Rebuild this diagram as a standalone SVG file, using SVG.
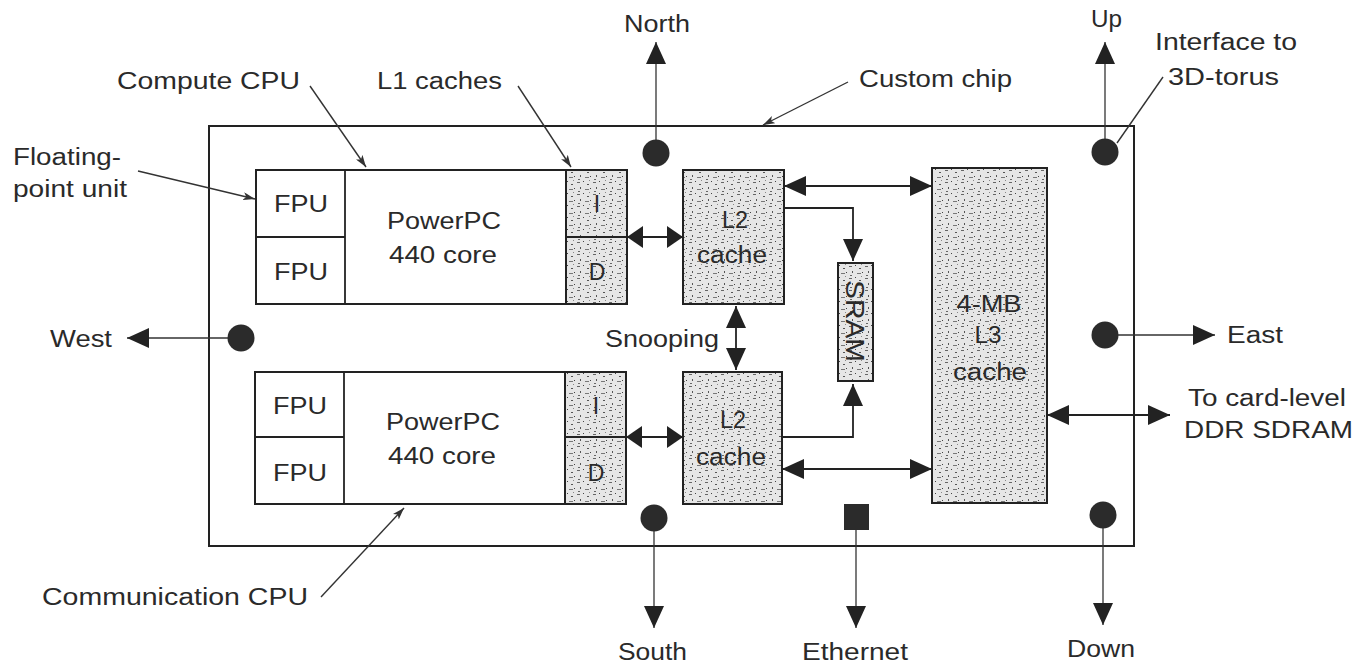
<svg xmlns="http://www.w3.org/2000/svg" width="1366" height="668" viewBox="0 0 1366 668">
<defs>
<style>
.t{font-family:"Liberation Sans",Arial,Helvetica,sans-serif;font-size:23px;fill:#2a2a2a}
.box{fill:#fff;stroke:#222;stroke-width:2}
.sh{fill:url(#stip);stroke:#222;stroke-width:2}
.ln{fill:none;stroke:#222;stroke-width:1.8}
.thin{fill:none;stroke:#333;stroke-width:1.3}
.ld{fill:none;stroke:#333;stroke-width:1.4}
.dot{fill:#2b2b2b}
</style>
<pattern id="stip" width="16" height="12" patternUnits="userSpaceOnUse">
<rect width="16" height="12" fill="#e6e6e6"/>
<rect x="1" y="2" width="3" height="1" fill="#666"/>
<rect x="7" y="1" width="1" height="1" fill="#444"/>
<rect x="11" y="4" width="2" height="1" fill="#555"/>
<rect x="4" y="7" width="1" height="2" fill="#555"/>
<rect x="9" y="9" width="4" height="1" fill="#777"/>
<rect x="14" y="8" width="1" height="1" fill="#444"/>
<rect x="2" y="11" width="2" height="1" fill="#666"/>
<rect x="13" y="0" width="1" height="1" fill="#888"/>
</pattern>
<marker id="ah" markerUnits="userSpaceOnUse" markerWidth="22" markerHeight="20" viewBox="0 0 22 20" refX="22" refY="10" orient="auto-start-reverse">
<path d="M0,0 L22,10 L0,20 Z" fill="#222"/>
</marker>
<marker id="ahs" markerUnits="userSpaceOnUse" markerWidth="16" markerHeight="22" viewBox="0 0 16 22" refX="16" refY="11" orient="auto-start-reverse">
<path d="M0,0 L16,11 L0,22 Z" fill="#222"/>
</marker>
<marker id="lh" markerUnits="userSpaceOnUse" markerWidth="12" markerHeight="8" viewBox="0 0 12 8" refX="12" refY="4" orient="auto">
<path d="M0,0 L12,4 L0,8 L3,4 Z" fill="#333"/>
</marker>
</defs>
<rect width="1366" height="668" fill="#fff"/>

<g id="chip"><rect x="209" y="126" width="925" height="420" fill="none" stroke="#222" stroke-width="2"/></g>

<g id="cpu-compute">
<rect class="box" x="256" y="170" width="371" height="134"/>
<line class="ln" x1="345" y1="170" x2="345" y2="304"/>
<line class="ln" x1="256" y1="237" x2="345" y2="237"/>
<text class="t" x="274" y="212" textLength="54" lengthAdjust="spacingAndGlyphs">FPU</text>
<text class="t" x="274" y="280" textLength="54" lengthAdjust="spacingAndGlyphs">FPU</text>
<text class="t" x="387" y="229" textLength="114" lengthAdjust="spacingAndGlyphs">PowerPC</text>
<text class="t" x="389" y="263" textLength="108" lengthAdjust="spacingAndGlyphs">440 core</text>
</g>
<g id="l1-compute">
<rect class="sh" x="566" y="170" width="61" height="67"/>
<rect class="sh" x="566" y="237" width="61" height="67"/>
<text class="t" x="597" y="212" text-anchor="middle">I</text>
<text class="t" x="597" y="280" text-anchor="middle">D</text>
</g>

<g id="cpu-communication">
<rect class="box" x="255" y="372" width="371" height="132"/>
<line class="ln" x1="344" y1="372" x2="344" y2="504"/>
<line class="ln" x1="255" y1="437" x2="344" y2="437"/>
<text class="t" x="273" y="414" textLength="54" lengthAdjust="spacingAndGlyphs">FPU</text>
<text class="t" x="273" y="481" textLength="54" lengthAdjust="spacingAndGlyphs">FPU</text>
<text class="t" x="386" y="430" textLength="114" lengthAdjust="spacingAndGlyphs">PowerPC</text>
<text class="t" x="388" y="464" textLength="108" lengthAdjust="spacingAndGlyphs">440 core</text>
</g>
<g id="l1-communication">
<rect class="sh" x="565" y="372" width="61" height="65"/>
<rect class="sh" x="565" y="437" width="61" height="67"/>
<text class="t" x="596" y="414" text-anchor="middle">I</text>
<text class="t" x="596" y="481" text-anchor="middle">D</text>
</g>

<g id="l2-top">
<rect class="sh" x="683" y="170" width="101" height="134"/>
<text class="t" x="722" y="228" textLength="26" lengthAdjust="spacingAndGlyphs">L2</text>
<text class="t" x="697" y="263" textLength="70" lengthAdjust="spacingAndGlyphs">cache</text>
</g>
<g id="l2-bottom">
<rect class="sh" x="683" y="372" width="99" height="132"/>
<text class="t" x="720" y="428" textLength="26" lengthAdjust="spacingAndGlyphs">L2</text>
<text class="t" x="696" y="465" textLength="70" lengthAdjust="spacingAndGlyphs">cache</text>
</g>
<g id="sram">
<rect class="sh" x="838" y="263" width="35" height="118"/>
<text class="t" transform="translate(846,321) rotate(90)" x="0" y="0" text-anchor="middle" style="font-size:25px" textLength="82" lengthAdjust="spacingAndGlyphs">SRAM</text>
</g>
<g id="l3">
<rect class="sh" x="932" y="168" width="115" height="335"/>
<text class="t" x="989" y="312" text-anchor="middle" textLength="65" lengthAdjust="spacingAndGlyphs">4-MB</text>
<text class="t" x="988" y="343" text-anchor="middle" textLength="27" lengthAdjust="spacingAndGlyphs">L3</text>
<text class="t" x="990" y="380" text-anchor="middle" textLength="74" lengthAdjust="spacingAndGlyphs">cache</text>
</g>

<g id="ports">
<circle class="dot" cx="656" cy="153" r="13.5"/>
<circle class="dot" cx="1105" cy="152" r="13.5"/>
<circle class="dot" cx="241" cy="338" r="13.5"/>
<circle class="dot" cx="1105" cy="335" r="13.5"/>
<circle class="dot" cx="654" cy="518" r="13.5"/>
<circle class="dot" cx="1103" cy="515" r="13.5"/>
</g>
<g id="ethernet-port"><rect x="844" y="504" width="25" height="26" fill="#2b2b2b"/></g>

<g id="connectors">
<line class="ln" x1="627" y1="237" x2="683" y2="237" marker-start="url(#ahs)" marker-end="url(#ahs)"/>
<line class="ln" x1="626" y1="437" x2="683" y2="437" marker-start="url(#ahs)" marker-end="url(#ahs)"/>
<line class="ln" x1="736" y1="306" x2="736" y2="370" marker-start="url(#ah)" marker-end="url(#ah)"/>
<line class="ln" x1="784" y1="186" x2="932" y2="186" marker-start="url(#ah)" marker-end="url(#ah)"/>
<line class="ln" x1="782" y1="469" x2="932" y2="469" marker-start="url(#ah)" marker-end="url(#ah)"/>
<polyline class="ln" points="784,208 853,208 853,261" marker-end="url(#ah)"/>
<polyline class="ln" points="782,437 853,437 853,384" marker-end="url(#ah)"/>
<line class="ln" x1="1047" y1="415" x2="1170" y2="415" marker-start="url(#ah)" marker-end="url(#ah)"/>
<line class="thin" x1="656" y1="140" x2="656" y2="42" marker-end="url(#ah)"/>
<line class="thin" x1="1105" y1="139" x2="1105" y2="42" marker-end="url(#ah)"/>
<line class="thin" x1="228" y1="338" x2="127" y2="338" marker-end="url(#ah)"/>
<line class="thin" x1="1118" y1="335" x2="1215" y2="335" marker-end="url(#ah)"/>
<line class="thin" x1="654" y1="531" x2="654" y2="628" marker-end="url(#ah)"/>
<line class="thin" x1="1103" y1="528" x2="1103" y2="625" marker-end="url(#ah)"/>
<line class="thin" x1="856" y1="530" x2="856" y2="628" marker-end="url(#ah)"/>
<line class="ld" x1="310" y1="86" x2="366" y2="167" marker-end="url(#lh)"/>
<line class="ld" x1="518" y1="86" x2="571" y2="167" marker-end="url(#lh)"/>
<line class="ld" x1="138" y1="171" x2="255" y2="199" marker-end="url(#lh)"/>
<line class="ld" x1="848" y1="82" x2="763" y2="125" marker-end="url(#lh)"/>
<line class="ld" x1="1163" y1="77" x2="1117" y2="143"/>
<line class="ld" x1="321" y1="597" x2="404" y2="508" marker-end="url(#lh)"/>
</g>

<g id="labels">
<text class="t" x="624" y="32" textLength="66" lengthAdjust="spacingAndGlyphs">North</text>
<text class="t" x="1091" y="27" textLength="31" lengthAdjust="spacingAndGlyphs">Up</text>
<text class="t" x="1155" y="50" textLength="142" lengthAdjust="spacingAndGlyphs">Interface to</text>
<text class="t" x="1168" y="85" textLength="111" lengthAdjust="spacingAndGlyphs">3D-torus</text>
<text class="t" x="859" y="87" textLength="153" lengthAdjust="spacingAndGlyphs">Custom chip</text>
<text class="t" x="117" y="89" textLength="183" lengthAdjust="spacingAndGlyphs">Compute CPU</text>
<text class="t" x="377" y="89" textLength="125" lengthAdjust="spacingAndGlyphs">L1 caches</text>
<text class="t" x="13" y="165" textLength="108" lengthAdjust="spacingAndGlyphs">Floating-</text>
<text class="t" x="13" y="197" textLength="114" lengthAdjust="spacingAndGlyphs">point unit</text>
<text class="t" x="605" y="347" textLength="114" lengthAdjust="spacingAndGlyphs">Snooping</text>
<text class="t" x="50" y="347" textLength="62" lengthAdjust="spacingAndGlyphs">West</text>
<text class="t" x="1227" y="343" textLength="56" lengthAdjust="spacingAndGlyphs">East</text>
<text class="t" x="1188" y="406" textLength="158" lengthAdjust="spacingAndGlyphs">To card-level</text>
<text class="t" x="1184" y="438" textLength="169" lengthAdjust="spacingAndGlyphs">DDR SDRAM</text>
<text class="t" x="42" y="605" textLength="266" lengthAdjust="spacingAndGlyphs">Communication CPU</text>
<text class="t" x="618" y="660" textLength="69" lengthAdjust="spacingAndGlyphs">South</text>
<text class="t" x="802" y="660" textLength="106" lengthAdjust="spacingAndGlyphs">Ethernet</text>
<text class="t" x="1067" y="657" textLength="68" lengthAdjust="spacingAndGlyphs">Down</text>
</g>
</svg>
